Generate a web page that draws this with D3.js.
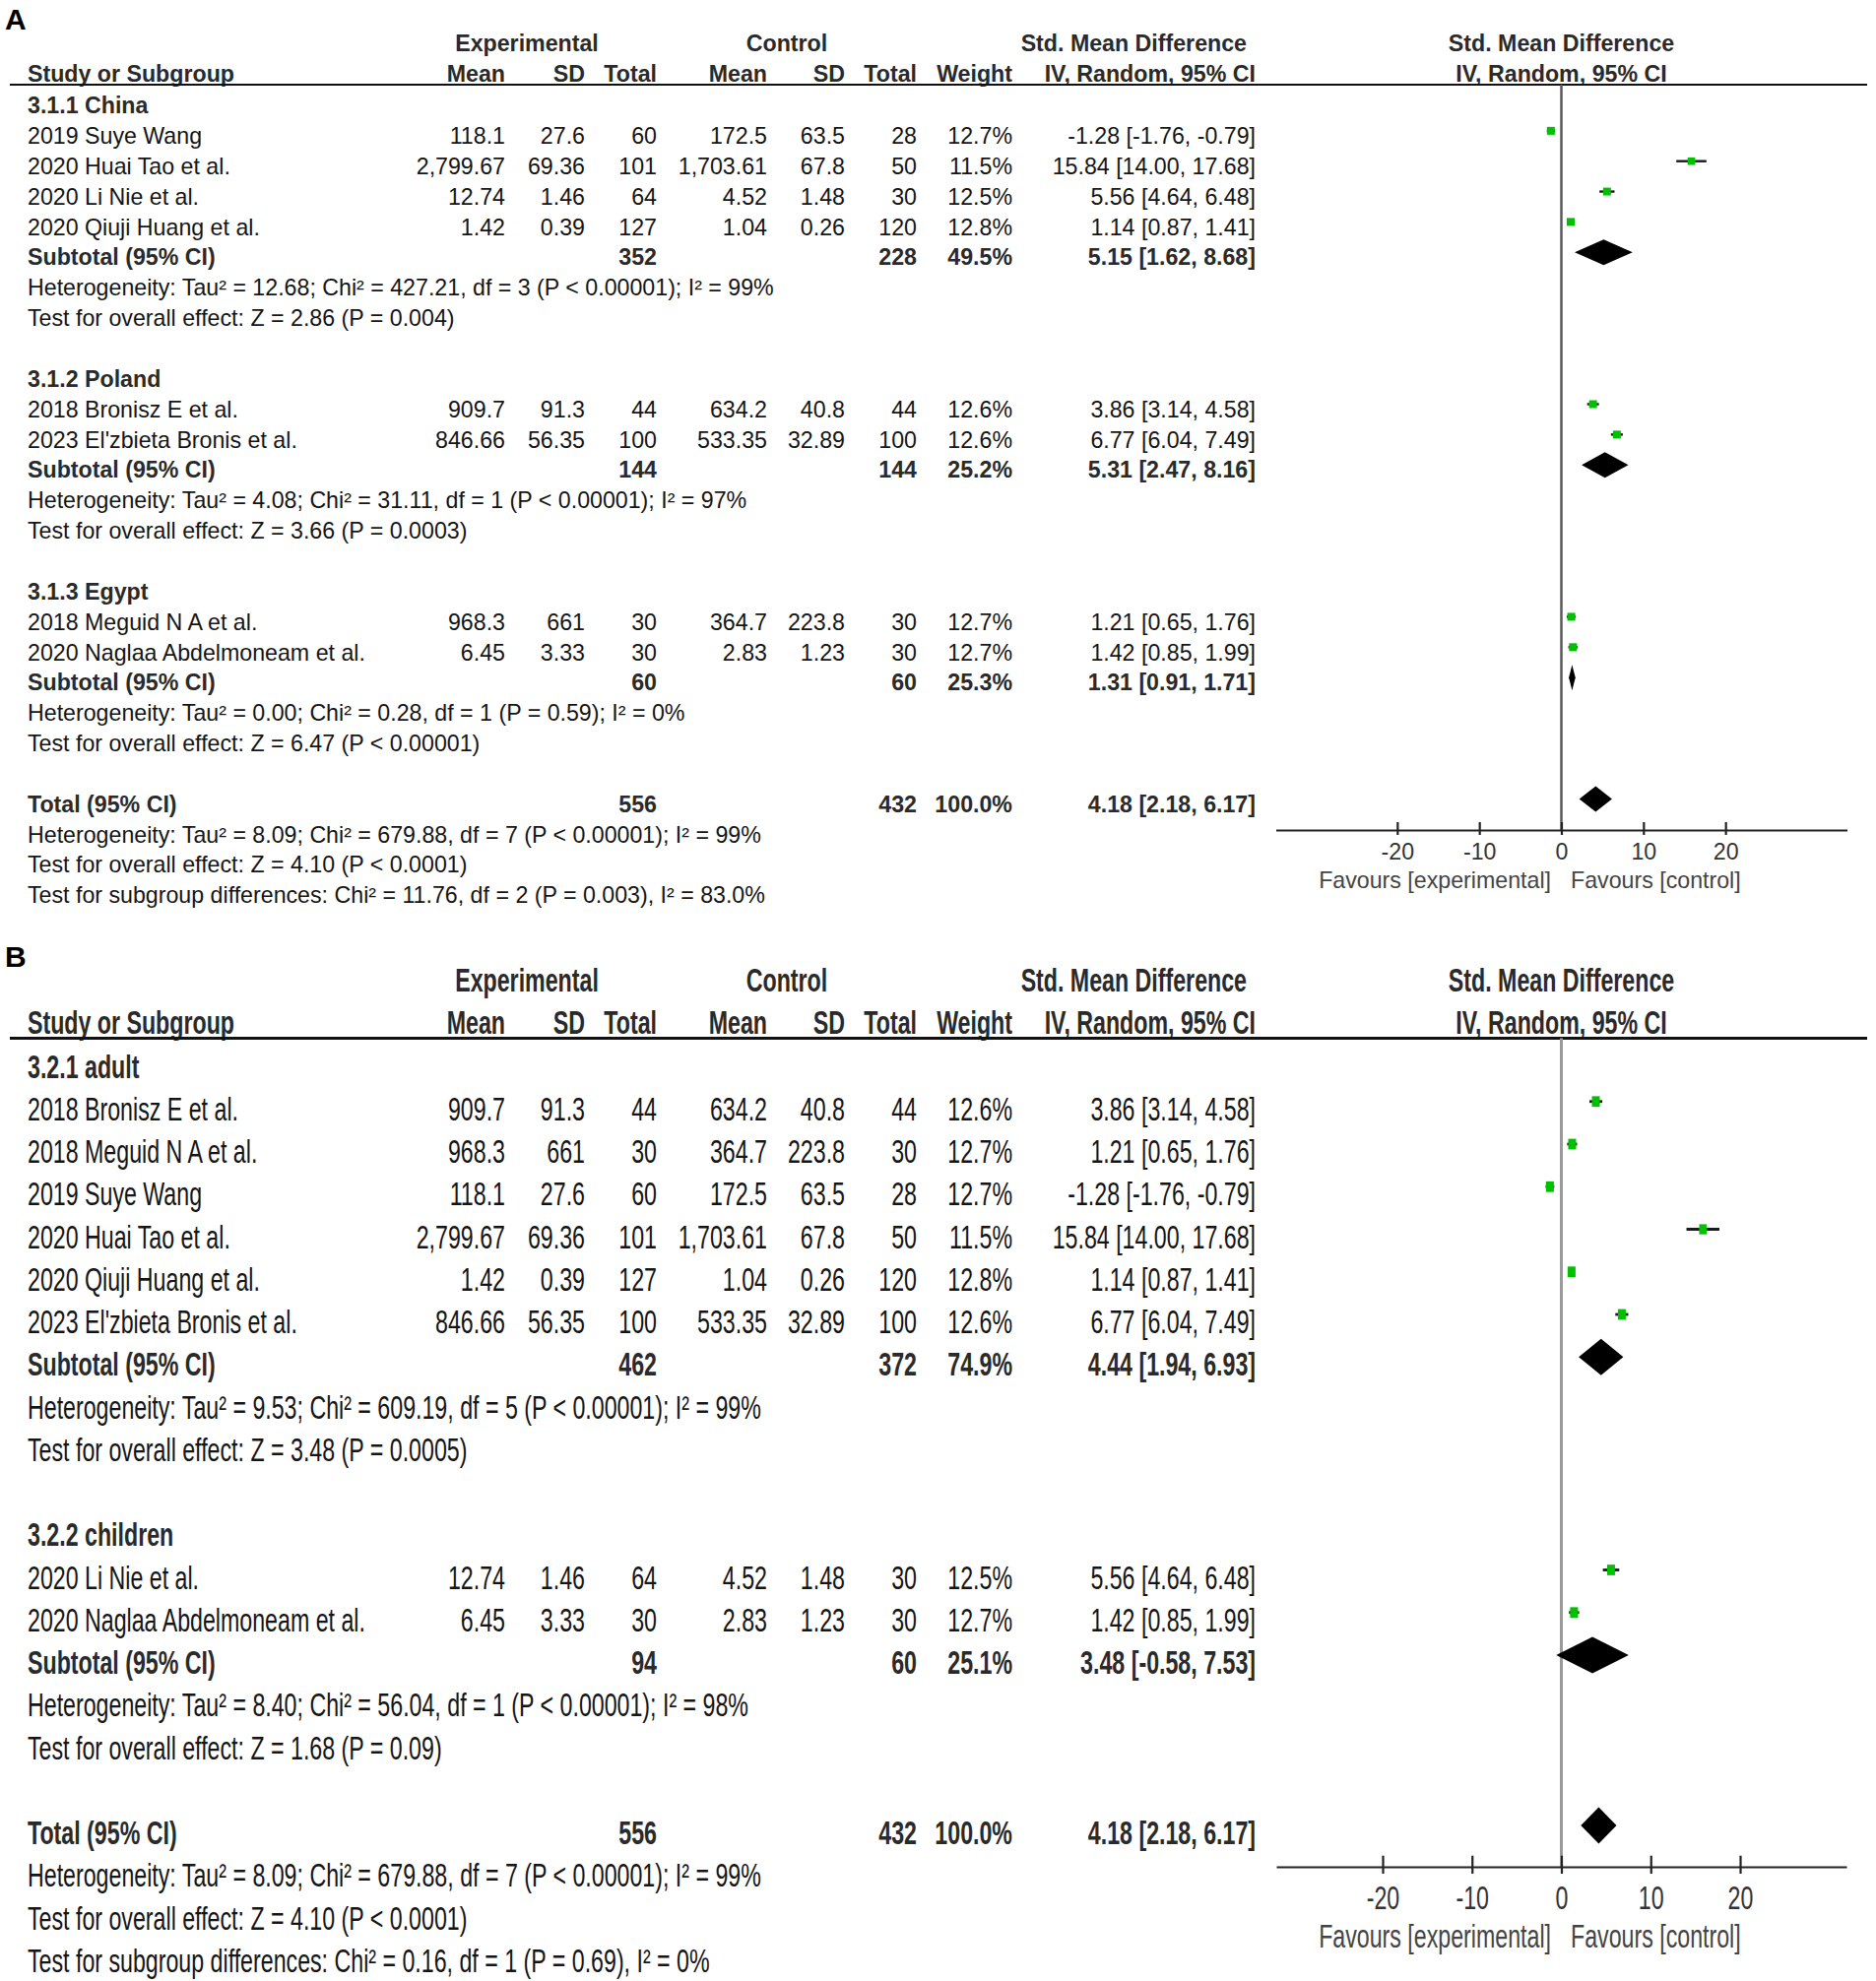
<!DOCTYPE html>
<html><head><meta charset="utf-8">
<script src="https://cdn.jsdelivr.net/npm/d3@7"></script>
<style>
html,body{margin:0;padding:0;background:#fff;}
svg{display:block;}
text{font-family:Arial,"Liberation Sans",Helvetica,sans-serif;}
</style></head><body>
<svg id="chart" width="1905" height="2012"></svg>
<script>
// ================= DATA =================
const studyNames = ["2019 Suye Wang","2020 Huai Tao et al.","2020 Li Nie et al.","2020 Qiuji Huang et al.",
  "2018 Bronisz E et al.","2023 El'zbieta Bronis et al.","2018 Meguid N A et al.","2020 Naglaa Abdelmoneam et al."];
const expMean = ["118.1","2,799.67","12.74","1.42","909.7","846.66","968.3","6.45"];
const expSD   = ["27.6","69.36","1.46","0.39","91.3","56.35","661","3.33"];
const expN    = [60,101,64,127,44,100,30,30];
const ctlMean = ["172.5","1,703.61","4.52","1.04","634.2","533.35","364.7","2.83"];
const ctlSD   = ["63.5","67.8","1.48","0.26","40.8","32.89","223.8","1.23"];
const ctlN    = [28,50,30,120,44,100,30,30];
const studyWeight = [12.7,11.5,12.5,12.8,12.6,12.6,12.7,12.7];
const studySmd  = [-1.28,15.84,5.56,1.14,3.86,6.77,1.21,1.42];
const studyLow  = [-1.76,14.00,4.64,0.87,3.14,6.04,0.65,0.85];
const studyHigh = [-0.79,17.68,6.48,1.41,4.58,7.49,1.76,1.99];

// Panel A subgroups (by country)
const subNamesA   = ["3.1.1 China","3.1.2 Poland","3.1.3 Egypt"];
const subMembersA = [[0,1,2,3],[4,5],[6,7]];
const subExpNA    = [352,144,60];
const subCtlNA    = [228,144,60];
const subWeightA  = [49.5,25.2,25.3];
const subSmdA     = [5.15,5.31,1.31];
const subLowA     = [1.62,2.47,0.91];
const subHighA    = [8.68,8.16,1.71];
const subHetA = ["Heterogeneity: Tau² = 12.68; Chi² = 427.21, df = 3 (P < 0.00001); I² = 99%",
                 "Heterogeneity: Tau² = 4.08; Chi² = 31.11, df = 1 (P < 0.00001); I² = 97%",
                 "Heterogeneity: Tau² = 0.00; Chi² = 0.28, df = 1 (P = 0.59); I² = 0%"];
const subTestA = ["Test for overall effect: Z = 2.86 (P = 0.004)",
                  "Test for overall effect: Z = 3.66 (P = 0.0003)",
                  "Test for overall effect: Z = 6.47 (P < 0.00001)"];
const subDiffA = "Test for subgroup differences: Chi² = 11.76, df = 2 (P = 0.003), I² = 83.0%";

// Panel B subgroups (by age)
const subNamesB   = ["3.2.1 adult","3.2.2 children"];
const subMembersB = [[4,6,0,1,3,5],[2,7]];
const subExpNB    = [462,94];
const subCtlNB    = [372,60];
const subWeightB  = [74.9,25.1];
const subSmdB     = [4.44,3.48];
const subLowB     = [1.94,-0.58];
const subHighB    = [6.93,7.53];
const subHetB = ["Heterogeneity: Tau² = 9.53; Chi² = 609.19, df = 5 (P < 0.00001); I² = 99%",
                 "Heterogeneity: Tau² = 8.40; Chi² = 56.04, df = 1 (P < 0.00001); I² = 98%"];
const subTestB = ["Test for overall effect: Z = 3.48 (P = 0.0005)",
                  "Test for overall effect: Z = 1.68 (P = 0.09)"];
const subDiffB = "Test for subgroup differences: Chi² = 0.16, df = 1 (P = 0.69), I² = 0%";

// Overall
const totalExpN = 556, totalCtlN = 432, totalWeight = 100.0;
const totalSmd = 4.18, totalLow = 2.18, totalHigh = 6.17;
const totalHet  = "Heterogeneity: Tau² = 8.09; Chi² = 679.88, df = 7 (P < 0.00001); I² = 99%";
const totalTest = "Test for overall effect: Z = 4.10 (P < 0.0001)";
const xTickValues = [-20,-10,0,10,20];
const favourLeft = "Favours [experimental]", favourRight = "Favours [control]";

// ================= DRAW =================
const svg = d3.select("#chart");
const FS = 23.2;
const TXT = "#151515", BOLD = "#2a2a2a";
const col = {label:28, expMean:513, expSD:594, expN:667, ctlMean:779, ctlSD:858, ctlN:931, weight:1028, ci:1275};

function txt(g, x, y, s, o={}) {
  const sy = o.sy || 1;
  return g.append("text")
    .attr("transform", `translate(${x},${y}) scale(1,${sy})`)
    .attr("text-anchor", o.anchor || "start")
    .attr("font-size", o.size || FS)
    .attr("font-weight", o.bold ? "bold" : "normal")
    .attr("fill", o.fill || (o.bold ? BOLD : TXT))
    .text(s);
}
const ciStr = (e,l,h) => `${e.toFixed(2)} [${l.toFixed(2)}, ${h.toFixed(2)}]`;

function buildRows(names, members, sExp, sCtl, sW, sE, sL, sH, het, test, diff) {
  const rows = [];
  names.forEach((nm, g) => {
    rows.push({type:"group", label:nm});
    members[g].forEach(k => rows.push({type:"study", k}));
    rows.push({type:"sum", label:"Subtotal (95% CI)", en:sExp[g], cn:sCtl[g], w:sW[g], e:sE[g], l:sL[g], h:sH[g]});
    rows.push({type:"text", label:het[g]});
    rows.push({type:"text", label:test[g]});
    rows.push({type:"blank"});
  });
  rows.push({type:"sum", label:"Total (95% CI)", en:totalExpN, cn:totalCtlN, w:totalWeight, e:totalSmd, l:totalLow, h:totalHigh});
  rows.push({type:"text", label:totalHet});
  rows.push({type:"text", label:totalTest});
  rows.push({type:"text", label:diff});
  return rows;
}

function panel(cfg, rows) {
  const g = svg.append("g");
  const sy = cfg.sy;
  const base = c => c + 8.2 * sy;     // text baseline from visual center
  // label
  txt(g, 5, cfg.labelY, cfg.letter, {bold:true, size:30, fill:"#000"});
  // headers
  txt(g, 535, base(cfg.hdr1), "Experimental", {bold:true, anchor:"middle", sy});
  txt(g, 799, base(cfg.hdr1), "Control", {bold:true, anchor:"middle", sy});
  txt(g, 1266, base(cfg.hdr1), "Std. Mean Difference", {bold:true, anchor:"end", sy});
  const x = d3.scaleLinear().domain(cfg.xDomain).range(cfg.xRange);
  txt(g, x(0), base(cfg.hdr1), "Std. Mean Difference", {bold:true, anchor:"middle", sy});
  const h2 = base(cfg.hdr2);
  txt(g, col.label, h2, "Study or Subgroup", {bold:true, sy});
  txt(g, col.expMean, h2, "Mean", {bold:true, anchor:"end", sy});
  txt(g, col.expSD, h2, "SD", {bold:true, anchor:"end", sy});
  txt(g, col.expN, h2, "Total", {bold:true, anchor:"end", sy});
  txt(g, col.ctlMean, h2, "Mean", {bold:true, anchor:"end", sy});
  txt(g, col.ctlSD, h2, "SD", {bold:true, anchor:"end", sy});
  txt(g, col.ctlN, h2, "Total", {bold:true, anchor:"end", sy});
  txt(g, col.weight, h2, "Weight", {bold:true, anchor:"end", sy});
  txt(g, col.ci, h2, "IV, Random, 95% CI", {bold:true, anchor:"end", sy});
  txt(g, x(0), h2, "IV, Random, 95% CI", {bold:true, anchor:"middle", sy});
  // header rule
  g.append("line").attr("x1",10).attr("x2",1896).attr("y1",cfg.line).attr("y2",cfg.line)
    .attr("stroke","#111").attr("stroke-width",cfg.ruleW);

  const yRow = d3.scaleLinear().domain([0,1]).range([cfg.row0, cfg.row0 + cfg.rowStep]);

  // zero line
  g.append("line").attr("x1",x(0)).attr("x2",x(0)).attr("y1",cfg.line).attr("y2",cfg.axisY)
    .attr("stroke",cfg.zeroColor).attr("stroke-width",cfg.zeroW);

  rows.forEach((r,i) => {
    const c = yRow(i), b = base(c), m = c + cfg.mOff;
    if (r.type === "group") txt(g, col.label, b, r.label, {bold:true, sy});
    else if (r.type === "text") txt(g, col.label, b, r.label, {sy});
    else if (r.type === "study") {
      const k = r.k;
      txt(g, col.label, b, studyNames[k], {sy});
      txt(g, col.expMean, b, expMean[k], {anchor:"end", sy});
      txt(g, col.expSD, b, expSD[k], {anchor:"end", sy});
      txt(g, col.expN, b, expN[k], {anchor:"end", sy});
      txt(g, col.ctlMean, b, ctlMean[k], {anchor:"end", sy});
      txt(g, col.ctlSD, b, ctlSD[k], {anchor:"end", sy});
      txt(g, col.ctlN, b, ctlN[k], {anchor:"end", sy});
      txt(g, col.weight, b, studyWeight[k].toFixed(1)+"%", {anchor:"end", sy});
      txt(g, col.ci, b, ciStr(studySmd[k], studyLow[k], studyHigh[k]), {anchor:"end", sy});
      g.append("line").attr("x1",x(studyLow[k])).attr("x2",x(studyHigh[k])).attr("y1",m).attr("y2",m)
        .attr("stroke","#1a1a1a").attr("stroke-width",cfg.ciW);
      const s = cfg.sq * Math.sqrt(studyWeight[k]/12.7);
      g.append("rect").attr("x",x(studySmd[k]) - s/2).attr("y",m - s*cfg.sqR/2)
        .attr("width",s).attr("height",s*cfg.sqR).attr("fill","#00c000");
    } else if (r.type === "sum") {
      txt(g, col.label, b, r.label, {bold:true, sy});
      txt(g, col.expN, b, r.en, {bold:true, anchor:"end", sy});
      txt(g, col.ctlN, b, r.cn, {bold:true, anchor:"end", sy});
      txt(g, col.weight, b, r.w.toFixed(1)+"%", {bold:true, anchor:"end", sy});
      txt(g, col.ci, b, ciStr(r.e, r.l, r.h), {bold:true, anchor:"end", sy});
      const hh = cfg.dH;
      g.append("path").attr("d", `M${x(r.l)},${m} L${x(r.e)},${m-hh} L${x(r.h)},${m} L${x(r.e)},${m+hh} Z`)
        .attr("fill","#000");
    }
  });

  // axis
  const axis = d3.axisBottom(x).tickValues(xTickValues).tickSizeOuter(0).tickSize(0)
    .tickFormat(d => String(d));
  const ag = g.append("g").attr("transform",`translate(0,${cfg.axisY})`).call(axis);
  ag.attr("font-size", null).attr("font-family", null);
  ag.select(".domain").attr("stroke","#222").attr("stroke-width",2.2);
  ag.selectAll(".tick line").attr("y1",-8*sy).attr("y2",5*sy).attr("stroke","#222").attr("stroke-width",2.2);
  ag.selectAll(".tick text").attr("y",null).attr("dy",null)
    .attr("transform",`translate(0,${cfg.tickLab + 8.2*sy}) scale(1,${sy})`)
    .attr("font-size",FS).attr("fill","#333");
  txt(g, x(0) - 10.5, base(cfg.favY), favourLeft, {anchor:"end", sy, fill:"#444"});
  txt(g, x(0) + 9.5, base(cfg.favY), favourRight, {sy, fill:"#444"});
}

const rowsA = buildRows(subNamesA, subMembersA, subExpNA, subCtlNA, subWeightA, subSmdA, subLowA, subHighA, subHetA, subTestA, subDiffA);
const rowsB = buildRows(subNamesB, subMembersB, subExpNB, subCtlNB, subWeightB, subSmdB, subLowB, subHighB, subHetB, subTestB, subDiffB);

panel({letter:"A", labelY:30, sy:1, hdr1:43.6, hdr2:74.4, line:86, ruleW:2.2,
  row0:107, rowStep:30.85, mOff:-5, axisY:843, xDomain:[-34.8,34.8], xRange:[1295.5,1875.5],
  zeroColor:"#5a5a5a", zeroW:2.5, ciW:2.4, sq:8, sqR:1, dH:13, tickLab:21.6, favY:894}, rowsA);

panel({letter:"B", labelY:982, sy:1.41, hdr1:995.5, hdr2:1038, line:1054.5, ruleW:3,
  row0:1083, rowStep:43.25, mOff:-7.5, axisY:1896, xDomain:[-31.9,31.9], xRange:[1296,1875],
  zeroColor:"#9a9a9a", zeroW:3, ciW:2.8, sq:8, sqR:1.35, dH:18.5, tickLab:31, favY:1966}, rowsB);
</script>
</body></html>
